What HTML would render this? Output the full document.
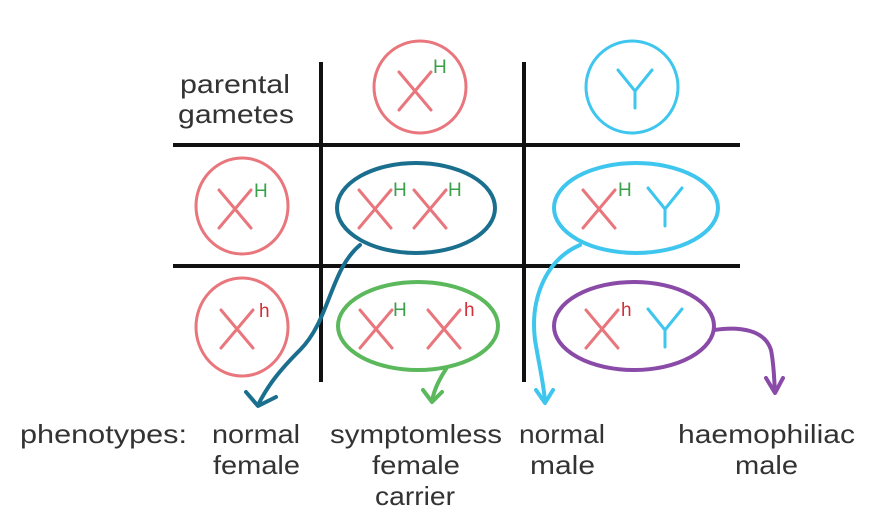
<!DOCTYPE html>
<html><head><style>html,body{margin:0;padding:0;background:#fff;}svg{display:block}</style></head>
<body>
<svg width="886" height="531" viewBox="0 0 886 531" xmlns="http://www.w3.org/2000/svg" font-family="Liberation Sans, sans-serif" font-size="26" fill="#333">
<defs>
<g id="X"><line x1="-16" y1="-19" x2="16" y2="19"/><line x1="16" y1="-19" x2="-16" y2="19"/></g>
<g id="Y"><line x1="-17" y1="-19" x2="0" y2="2"/><line x1="17" y1="-19" x2="0" y2="2"/><line x1="0" y1="2" x2="0" y2="19"/></g>
</defs>
<g stroke="#111" stroke-width="4">
<line x1="321" y1="62" x2="321" y2="382"/>
<line x1="524" y1="62" x2="524" y2="382"/>
<line x1="173" y1="145" x2="740" y2="145"/>
<line x1="173" y1="266" x2="740" y2="266"/>
</g>
<text x="180" y="93" textLength="110" lengthAdjust="spacingAndGlyphs">parental</text>
<text x="178" y="123" textLength="116" lengthAdjust="spacingAndGlyphs">gametes</text>
<g fill="none" stroke-width="3">
<ellipse cx="420" cy="87" rx="46" ry="46" stroke="#e8767c"/>
<ellipse cx="632" cy="87" rx="46" ry="46" stroke="#3ec6ee"/>
<ellipse cx="242" cy="206" rx="46" ry="48" stroke="#e8767c"/>
<ellipse cx="242" cy="327" rx="46" ry="49" stroke="#e8767c"/>
<ellipse cx="416" cy="208" rx="79" ry="45" stroke="#1b6f8e" stroke-width="4"/>
<ellipse cx="636" cy="208" rx="82" ry="45" stroke="#3ec6ee" stroke-width="4"/>
<ellipse cx="418" cy="326" rx="80" ry="44" stroke="#5cb85c" stroke-width="4"/>
<ellipse cx="634" cy="326" rx="80" ry="44" stroke="#8a4aa8" stroke-width="4"/>
</g>
<g stroke-width="3" fill="none" stroke-linecap="round">
<use href="#X" x="415" y="91" stroke="#e8767c"/>
<use href="#Y" x="635" y="89" stroke="#3ec6ee"/>
<use href="#X" x="235" y="209" stroke="#e8767c"/>
<use href="#X" x="237" y="329" stroke="#e8767c"/>
<use href="#X" x="375" y="209" stroke="#e8767c"/>
<use href="#X" x="430" y="209" stroke="#e8767c"/>
<use href="#X" x="599" y="209" stroke="#e8767c"/>
<use href="#Y" x="665" y="207" stroke="#3ec6ee"/>
<use href="#X" x="376" y="329" stroke="#e8767c"/>
<use href="#X" x="444" y="329" stroke="#e8767c"/>
<use href="#X" x="602" y="329" stroke="#e8767c"/>
<use href="#Y" x="665" y="328" stroke="#3ec6ee"/>
</g>
<g font-size="19">
<text x="433" y="73" fill="#3aa04a">H</text>
<text x="254" y="197" fill="#3aa04a">H</text>
<text x="393" y="196" fill="#3aa04a">H</text>
<text x="448" y="196" fill="#3aa04a">H</text>
<text x="618" y="196" fill="#3aa04a">H</text>
<text x="259" y="317" fill="#d0303a">h</text>
<text x="393" y="316" fill="#3aa04a">H</text>
<text x="464" y="316" fill="#d0303a">h</text>
<text x="621" y="316" fill="#d0303a">h</text>
</g>
<g fill="none" stroke-width="4" stroke-linecap="round" stroke-linejoin="round">
<path d="M360 245 C330 270 330 320 300 350 C280 370 268 385 258 405" stroke="#1b6f8e"/>
<path d="M246 392 L258 406 L276 397" stroke="#1b6f8e"/>
<path d="M580 245 C545 260 530 300 535 340 C540 370 544 385 545 402" stroke="#3ec6ee"/>
<path d="M536 390 L545 403 L553 390" stroke="#3ec6ee"/>
<path d="M446 369 C440 378 434 390 432 401" stroke="#5cb85c"/>
<path d="M423 390 L432 402 L442 392" stroke="#5cb85c"/>
<path d="M714 330 C740 326 765 330 771 350 C774 365 774 378 775 392" stroke="#8a4aa8"/>
<path d="M766 378 L775 393 L783 378" stroke="#8a4aa8"/>
</g>
<g>
<text x="20" y="443" textLength="167" lengthAdjust="spacingAndGlyphs">phenotypes:</text>
<text x="212" y="443" textLength="88" lengthAdjust="spacingAndGlyphs">normal</text>
<text x="213" y="474" textLength="87" lengthAdjust="spacingAndGlyphs">female</text>
<text x="330" y="443" textLength="172" lengthAdjust="spacingAndGlyphs">symptomless</text>
<text x="372" y="474" textLength="88" lengthAdjust="spacingAndGlyphs">female</text>
<text x="375" y="505" textLength="80" lengthAdjust="spacingAndGlyphs">carrier</text>
<text x="519" y="443" textLength="86" lengthAdjust="spacingAndGlyphs">normal</text>
<text x="530" y="474" textLength="65" lengthAdjust="spacingAndGlyphs">male</text>
<text x="678" y="443" textLength="177" lengthAdjust="spacingAndGlyphs">haemophiliac</text>
<text x="735" y="474" textLength="63" lengthAdjust="spacingAndGlyphs">male</text>
</g>
</svg>
</body></html>
